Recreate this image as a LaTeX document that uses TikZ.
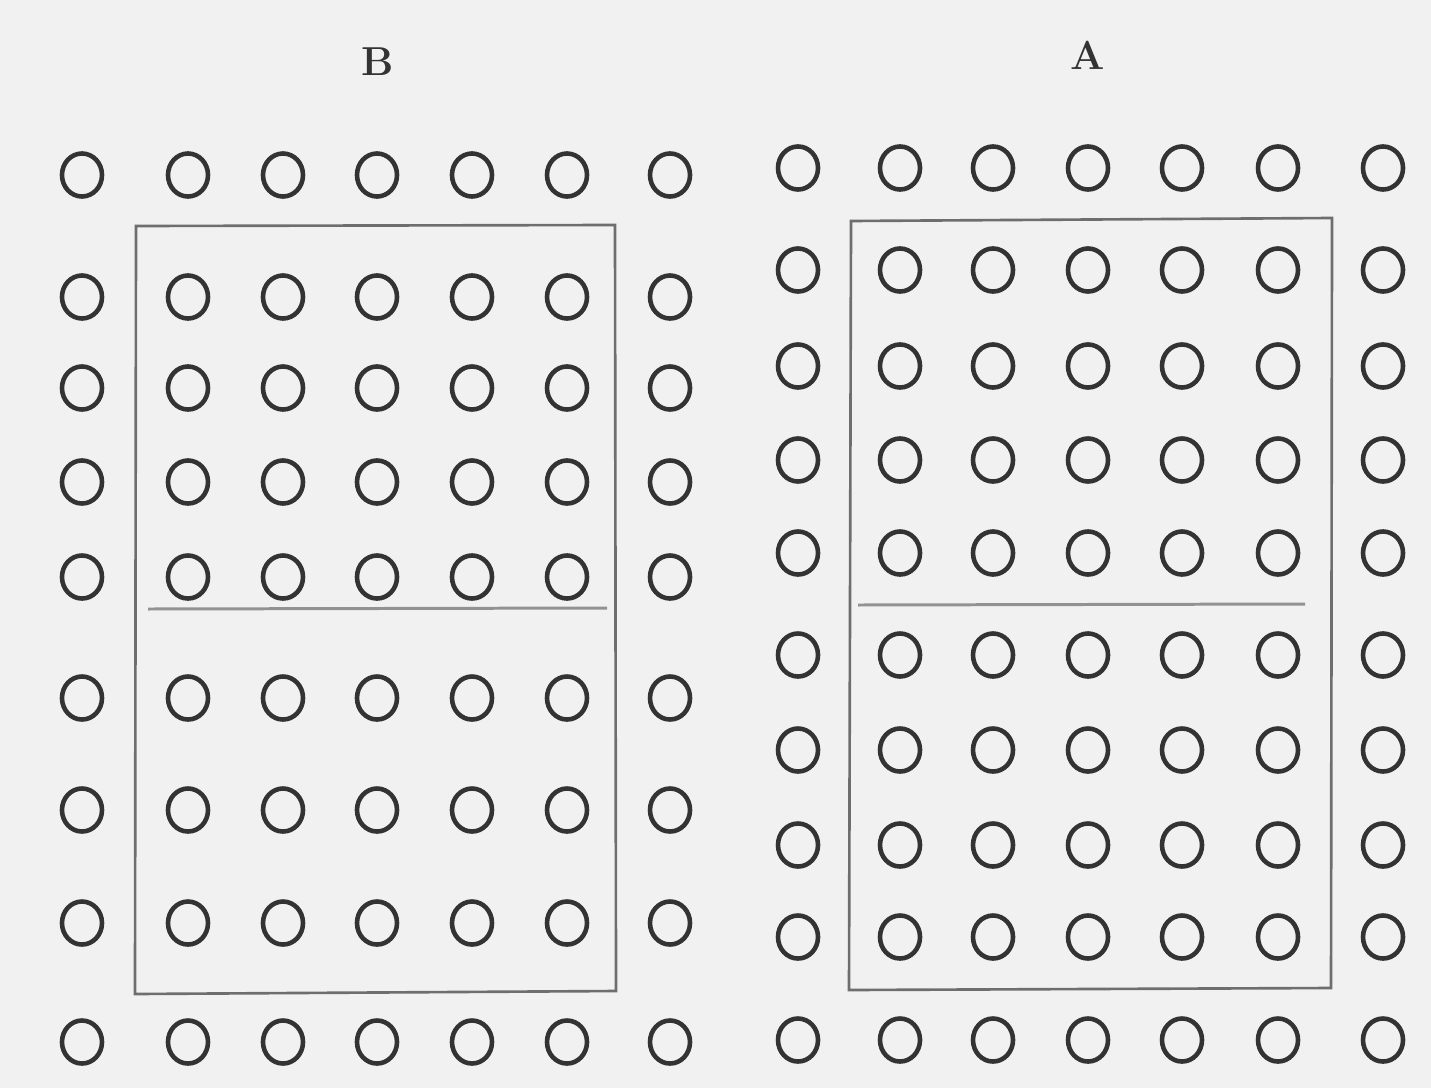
\documentclass[tikz,border=0pt]{standalone}
\usetikzlibrary{shapes.geometric}
\definecolor{paper}{HTML}{F1F1F1}
\definecolor{ink}{HTML}{333333}
\definecolor{rulegray}{HTML}{6E6E6E}
\begin{document}
\begin{tikzpicture}[x=0.01cm,y=-0.01cm,
  hole/.style={ellipse, draw=ink, line width=1.3pt, minimum width=0.40cm, minimum height=0.43cm, inner sep=0pt},
  frame/.style={draw=rulegray, line width=0.75pt},
  divider/.style={draw=rulegray!75, line width=0.85pt},
  letter/.style={font=\bfseries\fontsize{11.5}{13}\selectfont, text=ink, inner sep=0pt}]
\fill[paper] (0,0) rectangle (1431,1088);
\useasboundingbox (0,0) rectangle (1431,1088);
% grid B
\foreach \c [count=\i] in {82,188,283,377,472,567,670}
  \foreach \r [count=\j] in {175,297,388,482,577,698,810,923,1042}
    \node[hole] (b-\j-\i) at (\c,\r) {};
% grid A
\foreach \c [count=\i] in {798,900,993,1088,1182,1278,1383}
  \foreach \r [count=\j] in {168,270,366,460,553,655,750,845,937,1040}
    \node[hole] (a-\j-\i) at (\c,\r) {};
% frames
\draw[frame] (136,226) -- (615,225) -- (616,991) -- (135,994) -- cycle;
\draw[divider] (148,609) -- (607,608);
\draw[frame] (851,221) -- (1332,218) -- (1331,988) -- (849,990) -- cycle;
\draw[divider] (858,605) -- (1305,604);
% labels
\node[letter] (labB) at (378,62) {B};
\node[letter] (labA) at (1088,55) {A};
\end{tikzpicture}
\end{document}
